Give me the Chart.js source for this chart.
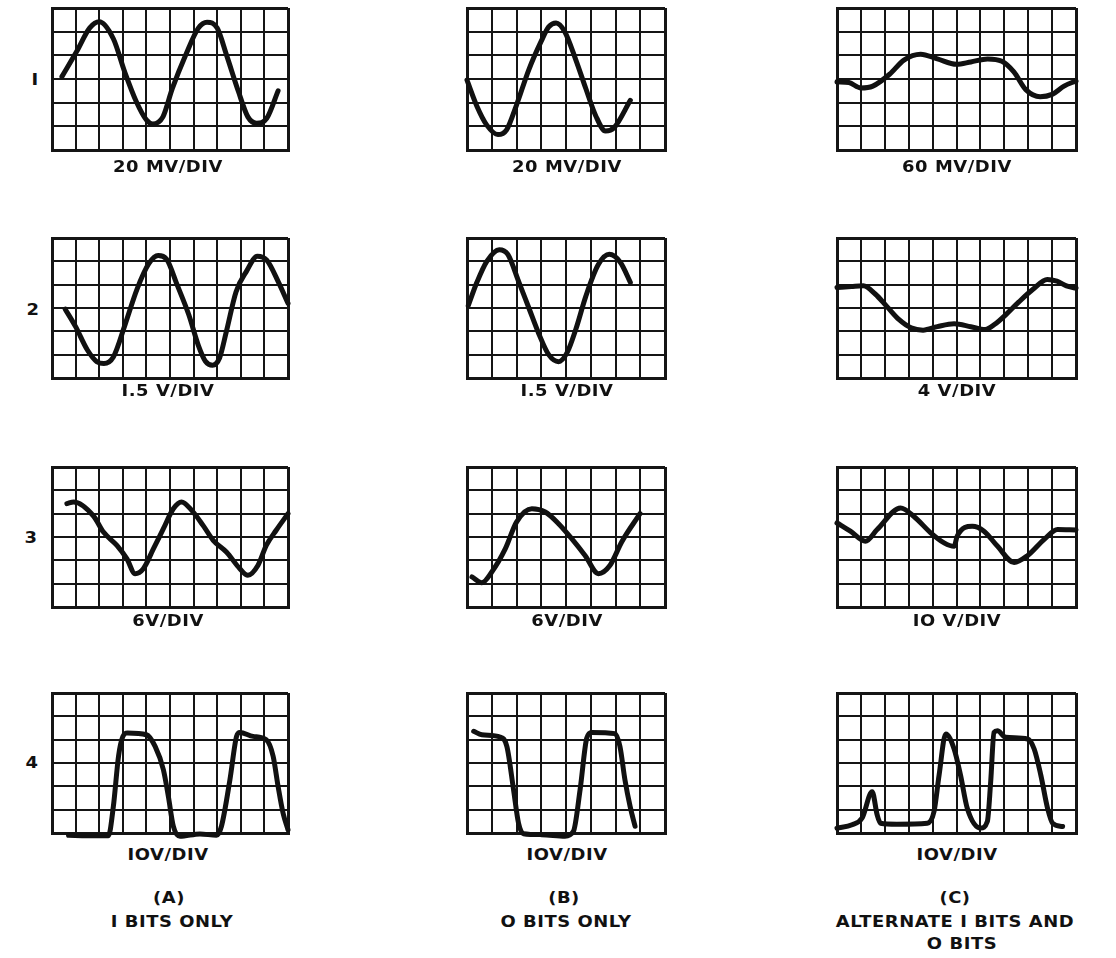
<!DOCTYPE html>
<html>
<head>
<meta charset="utf-8">
<script src="https://cdn.jsdelivr.net/npm/chart.js@4/dist/chart.umd.min.js"></script>
<style>
  html, body { margin: 0; padding: 0; background: #fff; }
  body { width: 1116px; height: 958px; position: relative; overflow: hidden; }
  canvas { position: absolute; }
  .t { position: absolute; white-space: nowrap; color: #111;
       font-family: "DejaVu Sans", sans-serif; font-weight: bold; font-size: 16px;
       letter-spacing: 0.5px; line-height: 1; }
</style>
</head>
<body>
<script>
// ---------- data (grid units: x = divisions from left, y = divisions from bottom) ----------
const A1_x = [0.42,1.05,1.6,2.0,2.6,3.08,3.57,4.0,4.27,4.7,5.1,5.66,6.2,6.57,7.0,7.4,7.9,8.3,8.67,9.1,9.58];
const A1_y = [3.1,4.17,5.16,5.42,4.7,3.3,2.05,1.27,1.1,1.4,2.6,4.0,5.15,5.4,5.15,4.0,2.47,1.4,1.13,1.34,2.5];
const B1_x = [0,0.4,0.8,1.25,1.6,2.0,2.5,3.0,3.3,3.6,3.95,4.4,4.8,5.2,5.6,5.95,6.6];
const B1_y = [2.95,1.85,1.05,0.65,0.85,1.9,3.4,4.6,5.2,5.37,5.0,3.8,2.6,1.45,0.8,0.95,2.1];
const C1_x = [0,0.5,1.0,1.5,2.2,2.8,3.5,4.2,5.0,5.6,6.3,6.9,7.4,7.9,8.5,9.0,9.5,10];
const C1_y = [2.88,2.85,2.62,2.7,3.2,3.8,4.05,3.85,3.62,3.72,3.85,3.75,3.3,2.55,2.25,2.35,2.7,2.92];

const A2_x = [0.56,1.0,1.5,1.9,2.2,2.6,3.1,3.6,4.1,4.5,4.85,5.3,5.8,6.2,6.5,6.8,7.1,7.39,7.8,8.24,8.7,9.1,9.6,10];
const A2_y = [2.95,2.2,1.2,0.7,0.62,0.9,2.3,3.8,4.9,5.25,5.1,4.0,2.7,1.4,0.72,0.55,0.86,2.0,3.7,4.57,5.22,5.05,4.1,3.2];
const B2_x = [0.05,0.4,0.8,1.3,1.65,2.1,2.5,2.9,3.3,3.7,4.05,4.4,4.8,5.3,5.75,6.2,6.6];
const B2_y = [3.1,4.1,5.0,5.5,5.3,4.1,3.0,1.9,1.0,0.7,1.1,2.1,3.5,4.85,5.3,4.95,4.1];
const C2_x = [0,0.6,1.1,1.6,2.1,2.6,3.1,3.6,4.2,4.9,5.6,6.2,6.6,7.1,7.6,8.2,8.8,9.2,9.6,10];
const C2_y = [3.88,3.92,3.95,3.6,3.05,2.5,2.15,2.05,2.2,2.32,2.2,2.08,2.3,2.75,3.25,3.8,4.22,4.15,3.95,3.85];

const A3_x = [0.63,0.92,1.76,2.18,2.75,3.17,3.52,3.87,4.3,4.72,5.14,5.49,5.92,6.4,6.83,7.39,7.96,8.3,8.73,9.08,9.5,10];
const A3_y = [4.43,4.5,3.9,3.21,2.64,2.07,1.43,1.64,2.5,3.36,4.21,4.5,4.14,3.5,2.86,2.36,1.64,1.36,1.79,2.64,3.29,4.0];
const B3_x = [0.2,0.6,1.0,1.55,2.0,2.62,3.16,3.7,4.23,4.77,5.31,5.78,6.25,6.99];
const B3_y = [1.29,1.04,1.5,2.5,3.64,4.21,4.07,3.57,2.93,2.21,1.43,1.79,2.79,4.0];
const C3_x = [0,0.56,1.19,1.68,2.66,3.22,3.92,4.48,4.9,5.03,5.66,6.15,6.71,7.41,7.97,8.67,9.23,10];
const C3_y = [3.6,3.25,2.82,3.32,4.24,3.88,3.18,2.75,2.6,3.04,3.46,3.25,2.61,1.91,2.2,2.9,3.32,3.3];

const A4_x = [0.7,1.5,2.39,2.6,2.82,3.0,3.2,4.0,4.37,4.72,4.93,5.14,5.42,6.27,6.97,7.18,7.54,7.82,7.96,8.52,9.08,9.37,9.58,9.79,10];
const A4_y = [-0.1,-0.12,-0.12,1.14,3.3,4.13,4.29,4.21,3.71,2.71,1.57,0.29,-0.14,-0.04,-0.1,0.29,2.29,4.14,4.31,4.14,4.0,3.29,2.0,0.86,0.14];
const B4_x = [0.27,0.6,1.34,1.61,1.88,2.08,2.28,3.02,3.96,4.3,4.57,4.84,5.04,5.98,6.18,6.38,6.59,6.79];
const B4_y = [4.36,4.21,4.11,3.71,1.86,0.43,-0.03,-0.07,-0.14,0.07,1.86,4.07,4.31,4.26,3.71,2.29,1.14,0.29];
const C4_x = [0,0.63,1.05,1.47,1.68,1.82,2.5,3.78,4.06,4.27,4.55,4.9,5.17,5.45,6.01,6.29,6.43,6.57,6.71,7.06,7.97,8.25,8.53,8.81,9.02,9.44];
const C4_y = [0.21,0.35,0.64,1.77,0.78,0.42,0.38,0.42,0.92,2.47,4.24,3.6,2.47,1.06,0.21,0.49,2.19,4.31,4.38,4.1,4.03,3.6,2.47,1.06,0.42,0.28];

// ---------- text ----------
const scaleLabels = [
  ["20 MV/DIV", "20 MV/DIV", "60 MV/DIV"],
  ["I.5 V/DIV", "I.5 V/DIV", "4 V/DIV"],
  ["6V/DIV", "6V/DIV", "IO V/DIV"],
  ["IOV/DIV", "IOV/DIV", "IOV/DIV"]
];
const rowLabels = ["I", "2", "3", "4"];
const colCaptions = [["(A)", "I BITS ONLY"], ["(B)", "O BITS ONLY"], ["(C)", "ALTERNATE I BITS AND", "O BITS"]];

// ---------- layout ----------
const colLeft  = [52, 467, 837];
const colRight = [288, 665, 1076];
const colDivs  = [10, 8, 10];
const rowTop    = [8, 238, 467, 693];
const rowBottom = [150, 378, 607, 833];
const rowDivs = 6;
const labelX = [168, 567, 957];
const labelY = [167, 391, 621, 855];
const rowLabelX = [35, 33, 31, 32];
const rowLabelY = [80, 310, 538, 763];
const captionX = [[169, 172], [564, 566], [955, 955, 962]];
const captionY = [898, 922, 944];
const PAD = 8;

const series = [
  [[A1_x, A1_y], [B1_x, B1_y], [C1_x, C1_y]],
  [[A2_x, A2_y], [B2_x, B2_y], [C2_x, C2_y]],
  [[A3_x, A3_y], [B3_x, B3_y], [C3_x, C3_y]],
  [[A4_x, A4_y], [B4_x, B4_y], [C4_x, C4_y]]
];

function addText(str, cx, cy) {
  const d = document.createElement('div');
  d.className = 't';
  d.textContent = str;
  d.style.left = cx + 'px';
  d.style.top = cy + 'px';
  d.style.transform = 'translate(-50%,-50%) scaleX(1.12)';
  document.body.appendChild(d);
}

function axis(max) {
  return {
    type: 'linear', min: 0, max: max,
    ticks: { display: false, stepSize: 1 },
    grid: {
      color: '#151515',
      lineWidth: c => (c.tick && (c.tick.value === 0 || c.tick.value === max)) ? 3 : 2,
      drawTicks: false
    },
    border: { display: true, color: '#151515', width: 3 }
  };
}

for (let r = 0; r < 4; r++) {
  for (let c = 0; c < 3; c++) {
    const left = colLeft[c], top = rowTop[r];
    const w = colRight[c] - left, h = rowBottom[r] - top;
    const cv = document.createElement('canvas');
    cv.width = w + 2 * PAD; cv.height = h + 2 * PAD;
    cv.style.left = (left - PAD) + 'px';
    cv.style.top = (top - PAD) + 'px';
    document.body.appendChild(cv);
    const [xs, ys] = series[r][c];
    new Chart(cv, {
      type: 'line',
      data: {
        datasets: [{
          data: xs.map((x, i) => ({ x: x, y: ys[i] })),
          borderColor: '#111',
          borderWidth: 5,
          pointRadius: 0,
          fill: false,
          cubicInterpolationMode: 'monotone',
          borderCapStyle: 'round',
          borderJoinStyle: 'round',
          clip: PAD
        }]
      },
      options: {
        responsive: false,
        animation: false,
        devicePixelRatio: 1,
        layout: { padding: PAD },
        plugins: { legend: { display: false }, tooltip: { enabled: false } },
        events: [],
        scales: { x: axis(colDivs[c]), y: axis(rowDivs) }
      }
    });
    addText(scaleLabels[r][c], labelX[c], labelY[r]);
  }
  addText(rowLabels[r], rowLabelX[r], rowLabelY[r]);
}
for (let c = 0; c < 3; c++) {
  colCaptions[c].forEach((s, i) => addText(s, captionX[c][i], captionY[i]));
}
</script>
</body>
</html>
